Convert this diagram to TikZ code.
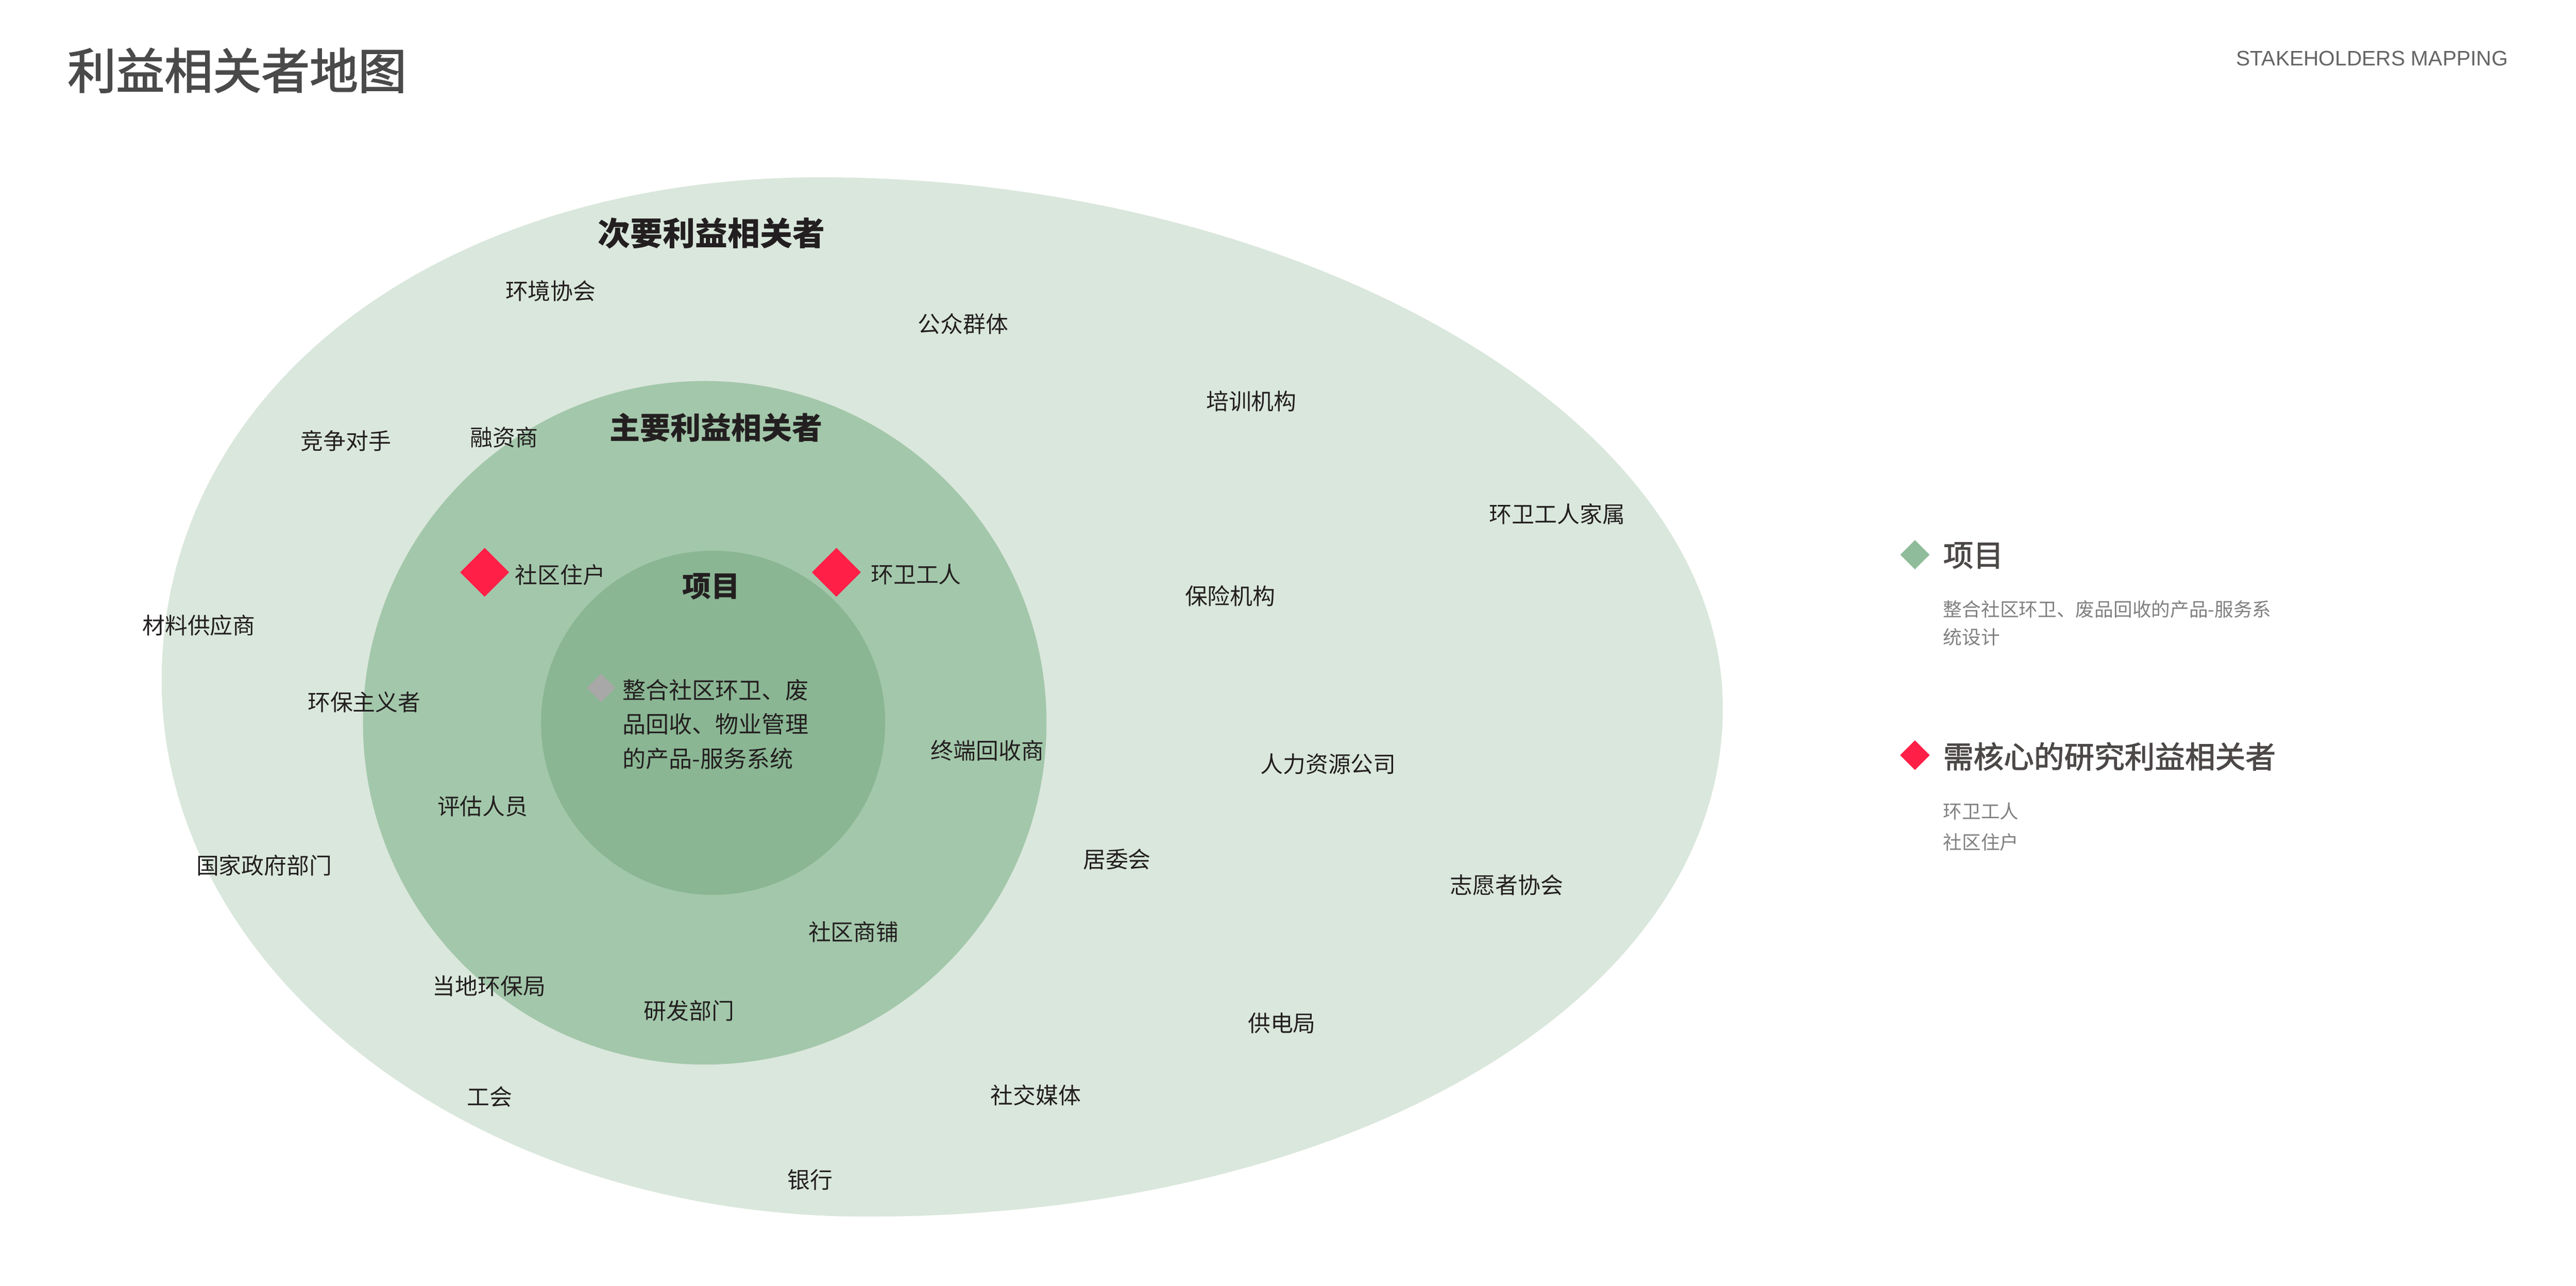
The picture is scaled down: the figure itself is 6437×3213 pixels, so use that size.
\documentclass[tikz,border=0pt]{standalone}
\usepackage{fontspec}
\setmainfont{Noto Sans CJK SC}
\newfontfamily\cjkmedium[FakeBold=2]{Noto Sans CJK SC}
\newfontfamily\latinsans{Liberation Sans}
\usetikzlibrary{shapes.geometric}

\definecolor{outerring}{RGB}{218,231,220}
\definecolor{middlering}{RGB}{163,199,170}
\definecolor{innerring}{RGB}{138,182,147}
\definecolor{keyred}{RGB}{255,31,71}
\definecolor{keygreen}{RGB}{143,188,154}
\definecolor{keygrey}{RGB}{168,168,168}
\definecolor{labelink}{RGB}{35,31,32}
\definecolor{titlegrey}{RGB}{74,74,74}
\definecolor{legendgrey}{RGB}{77,72,72}
\definecolor{notegrey}{RGB}{128,128,128}

\begin{document}
\begin{tikzpicture}[x=0.2pt,y=0.2pt,yscale=-1,xscale=1,
  lbl/.style={inner sep=0pt,text=labelink,font=\fontsize{11.3}{13}\selectfont},
  ringhead/.style={inner sep=0pt,text=labelink,font=\bfseries\fontsize{#1}{#1}\selectfont},
  keymark/.style={diamond,aspect=1,inner sep=0pt,minimum width=#1,minimum height=#1}]
\useasboundingbox (0,0) rectangle (6437,3213);

%Shape: Egg [id:outer]
\fill [outerring] (404,1700) .. controls (404,971) and (1095,443) .. (2050,443)
  .. controls (3223,443) and (4305,1027) .. (4305,1770)
  .. controls (4305,2494) and (3385,3040) .. (2165,3040)
  .. controls (1192,3040) and (404,2440) .. (404,1700) -- cycle;
%Shape: Circle [id:middle]
\fill [middlering] (1761,1806) circle [radius=854];
%Shape: Circle [id:inner]
\fill [innerring] (1782,1806) circle [radius=430];

% Title
\node (title) at (168,176) [anchor=west,inner sep=0pt,text=titlegrey,font=\cjkmedium\fontsize{24.2}{26}\selectfont] {利益相关者地图};
\node (subtitle) at (6268,146) [anchor=east,inner sep=0pt,text=titlegrey!85,font=\latinsans\fontsize{10.5}{12}\selectfont] {STAKEHOLDERS MAPPING};

% Ring headings
\node (secondary) at (1778,583) [ringhead=16.2] {次要利益相关者};
\node (primary) at (1789,1069) [ringhead=15.2] {主要利益相关者};
\node (project) at (1777,1466) [ringhead=14.4] {项目};

% Key stakeholders
\node (resmark) at (1211,1430) [keymark=24.6pt,fill=keyred] {};
\node (residents) at (1400,1437) [lbl] {社区住户};
\node (sanmark) at (2090,1430) [keymark=24.6pt,fill=keyred] {};
\node (sanworkers) at (2289,1435) [lbl] {环卫工人};

% Project note
\node (projmark) at (1502,1719) [keymark=14.4pt,fill=keygrey] {};
\node (projnote) at (1788,1810) [lbl,align=left,font=\fontsize{11.6}{17}\selectfont] {整合社区环卫、废\\品回收、物业管理\\的产品-服务系统};

% Text Node
\node (envassoc) at (1376,727) [lbl] {环境协会};
\node (publicgrp) at (2407,810) [lbl] {公众群体};
\node (training) at (3127,1003) [lbl] {培训机构};
\node (rivals) at (864,1102) [lbl] {竞争对手};
\node (financier) at (1260,1093) [lbl] {融资商};
\node (sanfamily) at (3891,1285) [lbl] {环卫工人家属};
\node (insurance) at (3074,1489) [lbl] {保险机构};
\node (supplier) at (497,1562) [lbl] {材料供应商};
\node (greens) at (910,1755) [lbl] {环保主义者};
\node (recycler) at (2467,1876) [lbl] {终端回收商};
\node (hrfirm) at (3319,1909) [lbl] {人力资源公司};
\node (assessor) at (1206,2015) [lbl] {评估人员};
\node (govdept) at (660,2162) [lbl] {国家政府部门};
\node (rescomm) at (2791,2147) [lbl] {居委会};
\node (volunteer) at (3765,2212) [lbl] {志愿者协会};
\node (shops) at (2133,2329) [lbl] {社区商铺};
\node (envbureau) at (1222,2464) [lbl] {当地环保局};
\node (rnd) at (1722,2525) [lbl] {研发部门};
\node (powerco) at (3203,2557) [lbl] {供电局};
\node (union) at (1224,2740) [lbl] {工会};
\node (media) at (2588,2736) [lbl] {社交媒体};
\node (bank) at (2024,2948) [lbl] {银行};

% Legend
\node (keyproj) at (4785,1386) [keymark=14.8pt,fill=keygreen] {};
\node (keyprojtxt) at (4855,1388) [anchor=west,inner sep=0pt,text=legendgrey,font=\cjkmedium\fontsize{15}{16}\selectfont] {项目};
\node (keyprojnote) at (4855,1557) [anchor=west,inner sep=0pt,align=left,text=notegrey,font=\fontsize{9.45}{13.8}\selectfont] {整合社区环卫、废品回收的产品-服务系\\统设计};
\node (keycore) at (4785,1887) [keymark=15pt,fill=keyred] {};
\node (keycoretxt) at (4855,1890) [anchor=west,inner sep=0pt,text=legendgrey,font=\cjkmedium\fontsize{15.1}{16}\selectfont] {需核心的研究利益相关者};
\node (keycorenote) at (4855,2066) [anchor=west,inner sep=0pt,align=left,text=notegrey,font=\fontsize{9.4}{15.4}\selectfont] {环卫工人\\社区住户};

\end{tikzpicture}
\end{document}
